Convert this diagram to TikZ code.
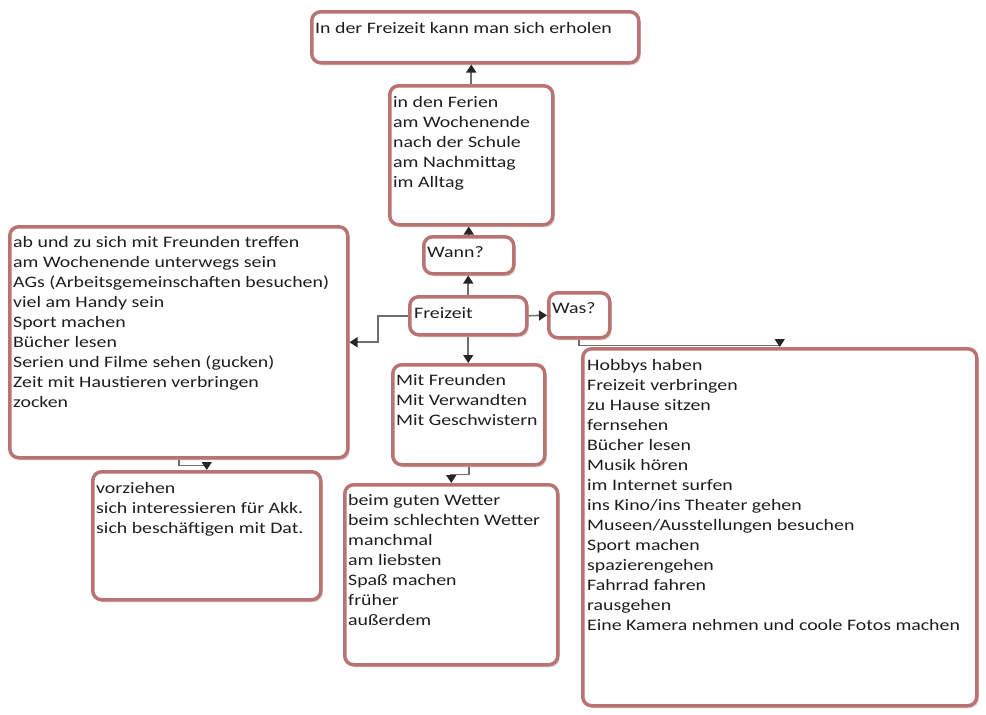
\documentclass[tikz,border=0pt]{standalone}
\usepackage{fontspec}
\setmainfont{Carlito}[FakeStretch=1.24]
\usetikzlibrary{arrows.meta,shadows}
\definecolor{boxborder}{HTML}{B97373}
\definecolor{linegray}{HTML}{6E6E6E}
\definecolor{txtcol}{HTML}{1E1E1E}
\tikzset{
  box/.style={draw=boxborder, line width=3.5pt, fill=white, rounded corners=9pt, inner sep=0pt, anchor=north west,
    drop shadow={opacity=0.3, shadow xshift=2pt, shadow yshift=-2.5pt}},
  txt/.style={anchor=north west, inner sep=0pt, align=left, text=txtcol, font=\fontsize{16}{20}\selectfont},
  conn/.style={draw=linegray, line width=1.6pt, -{Triangle[length=8pt,width=10pt,color=black!85]}}
}
\begin{document}
\begin{tikzpicture}[x=1pt,y=-1pt]
\useasboundingbox (0,0) rectangle (986,715);
% boxes
\node[box, minimum width=327, minimum height=51] (top) at (310,10) {};
\node[txt] (toptxt) at ([shift={(5,12)}]top.north west) {In der Freizeit kann man sich erholen};

\node[box, minimum width=163, minimum height=139] (wl) at (388,84) {};
\node[txt] (wltxt) at ([shift={(5,12)}]wl.north west) {in den Ferien\\am Wochenende\\nach der Schule\\am Nachmittag\\im Alltag};

\node[box, minimum width=90, minimum height=37] (wann) at (422,235) {};
\node[txt] (wanntxt) at ([shift={(5,11)}]wann.north west) {Wann?};

\node[box, minimum width=117, minimum height=38] (fz) at (408,295) {};
\node[txt] (fztxt) at ([shift={(6,12)}]fz.north west) {Freizeit};

\node[box, minimum width=61, minimum height=45] (was) at (547,291) {};
\node[txt] (wastxt) at ([shift={(5,11)}]was.north west) {Was?};

\node[box, minimum width=338, minimum height=231] (ll) at (8,225) {};
\node[txt] (lltxt) at ([shift={(5,11)}]ll.north west) {ab und zu sich mit Freunden treffen\\am Wochenende unterwegs sein\\AGs (Arbeitsgemeinschaften besuchen)\\viel am Handy sein\\Sport machen\\Bücher lesen\\Serien und Filme sehen (gucken)\\Zeit mit Haustieren verbringen\\zocken};

\node[box, minimum width=228, minimum height=128] (vz) at (91,470) {};
\node[txt] (vztxt) at ([shift={(5,12)}]vz.north west) {vorziehen\\sich interessieren für Akk.\\sich beschäftigen mit Dat.};

\node[box, minimum width=152, minimum height=100] (mf) at (391,363) {};
\node[txt] (mftxt) at ([shift={(5,11)}]mf.north west) {Mit Freunden\\Mit Verwandten\\Mit Geschwistern};

\node[box, minimum width=213, minimum height=180] (bw) at (343,483) {};
\node[txt] (bwtxt) at ([shift={(5,11)}]bw.north west) {beim guten Wetter\\beim schlechten Wetter\\manchmal\\am liebsten\\Spaß machen\\früher\\außerdem};

\node[box, minimum width=394, minimum height=357] (hb) at (581,347) {};
\node[txt] (hbtxt) at ([shift={(6,12)}]hb.north west) {Hobbys haben\\Freizeit verbringen\\zu Hause sitzen\\fernsehen\\Bücher lesen\\Musik hören\\im Internet surfen\\ins Kino/ins Theater gehen\\Museen/Ausstellungen besuchen\\Sport machen\\spazierengehen\\Fahrrad fahren\\rausgehen\\Eine Kamera nehmen und coole Fotos machen};

% connectors
\draw[conn] (wl.north) -- (wl.north |- top.south);
\draw[conn] (wann.north) -- (wann.north |- wl.south);
\draw[conn] (fz.north) -- (fz.north |- wann.south);
\draw[conn] (fz.west) -- ++(-30,0) |- (ll.east);
\draw[conn] (fz.east) -- (was.west);
\draw[conn] (fz.south) -- (fz.south |- mf.north);
\draw[conn] (was.south) -- ++(0,6) -| (hb.north);
\draw[conn] (ll.south) -- ++(0,6) -| (vz.north);
\draw[conn] (mf.south) -- ++(0,8) -| (bw.north);
\end{tikzpicture}
\end{document}
